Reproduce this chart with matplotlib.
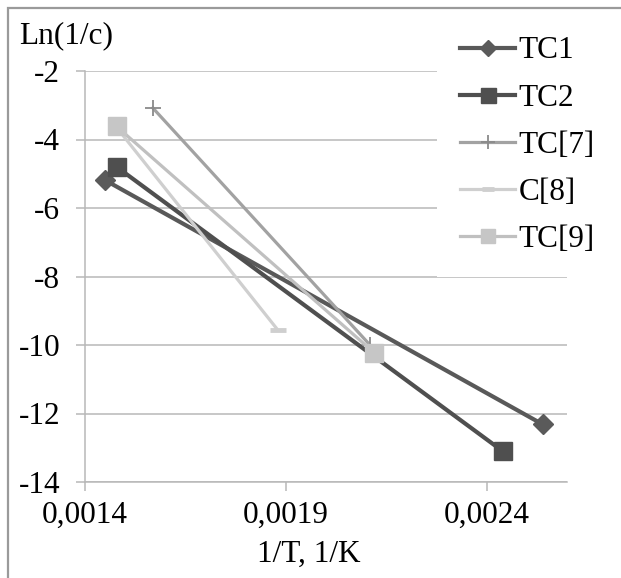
import numpy as np
import matplotlib
matplotlib.use("Agg")
import matplotlib.pyplot as plt
from matplotlib.patches import Rectangle
from matplotlib.ticker import FuncFormatter

plt.rcParams['font.family'] = ['Liberation Serif', 'DejaVu Serif']
plt.rcParams['axes.unicode_minus'] = False

# data
tc1_x = [0.00145, 0.00254]
tc1_y = [-5.18, -12.32]
tc2_x = [0.00148, 0.00244]
tc2_y = [-4.8, -13.1]
tc7_x = [0.00157, 0.00211]
tc7_y = [-3.08, -10.0]
c8_x = [0.00148, 0.00188]
c8_y = [-3.65, -9.55]
tc9_x = [0.00148, 0.00212]
tc9_y = [-3.62, -10.22]

xticks = [0.0014, 0.0019, 0.0024]
yticks = [-14, -12, -10, -8, -6, -4, -2]

W, H = 621, 578
fs = 22.5
grid_c = '#b8b8b8'

fig = plt.figure(figsize=(W / 100, H / 100), dpi=100)
ax = fig.add_axes([84.5 / W, 1 - 482 / H, (567 - 84.5) / W, (482 - 71) / H])

ax.plot(tc1_x, tc1_y, color='#595959', lw=3.0, marker='D', ms=10, mfc='#5a5a5a', mec='#5a5a5a', label='TC1')
ax.plot(tc2_x, tc2_y, color='#4f4f4f', lw=3.0, marker='s', ms=13.5, mfc='#4f4f4f', mec='#4f4f4f', label='TC2')
ax.plot(tc7_x, tc7_y, color='#a2a2a2', lw=2.3, marker='+', ms=12, mew=1.3, mec='#8a8a8a', label='TC[7]')
ax.plot(c8_x, c8_y, color='#cfcfcf', lw=2.3, marker='_', ms=11, mew=3.5, mec='#cfcfcf', label='C[8]')
ax.plot(tc9_x, tc9_y, color='#c0c0c0', lw=2.3, marker='s', ms=13, mfc='#c6c6c6', mec='#c6c6c6', label='TC[9]')

ax.set_xlim(0.0014, 0.0026)
ax.set_ylim(-14, -2)
ax.set_xticks(xticks)
ax.set_yticks(yticks)
ax.xaxis.set_major_formatter(FuncFormatter(lambda v, p: f"{v:.4f}".replace('.', ',')))
ax.yaxis.grid(True, color=grid_c, lw=1.1)
ax.set_axisbelow(True)

for s in ['top', 'right']:
    ax.spines[s].set_visible(False)
for s in ['left', 'bottom']:
    ax.spines[s].set_color(grid_c)
    ax.spines[s].set_linewidth(1.1)

ax.tick_params(axis='y', length=6.5, width=1.1, color=grid_c, labelsize=fs, pad=11)
ax.tick_params(axis='x', length=6.5, width=1.1, color=grid_c, labelsize=fs, pad=7)

ax.set_xlabel('1/T, 1/K', fontsize=fs)
ax.xaxis.set_label_coords(0.465, -0.175)
ax.xaxis.label.set_va('center')

ax.set_ylabel('Ln(1/c)', fontsize=fs, rotation=0, ha='left', va='center')
ax.yaxis.set_label_coords(-0.136, 1.085)

leg = ax.legend(loc='upper left', bbox_to_anchor=(437 / W, 1 - 13 / H), bbox_transform=fig.transFigure,
                fontsize=fs, frameon=True, framealpha=1, facecolor='white', edgecolor='none',
                handlelength=1.75, handletextpad=0.1, labelspacing=0.58, borderpad=0.75,
                borderaxespad=0, fancybox=False, markerscale=0.8)

# outer chart frame (only top and left visible in the crop)
fig.add_artist(Rectangle((8 / W, -0.2), 1.5, 1.2 - 8 / H, transform=fig.transFigure,
                         fill=False, edgecolor='#9a9a9a', lw=1.6))

fig.savefig('out.png', dpi=100)
